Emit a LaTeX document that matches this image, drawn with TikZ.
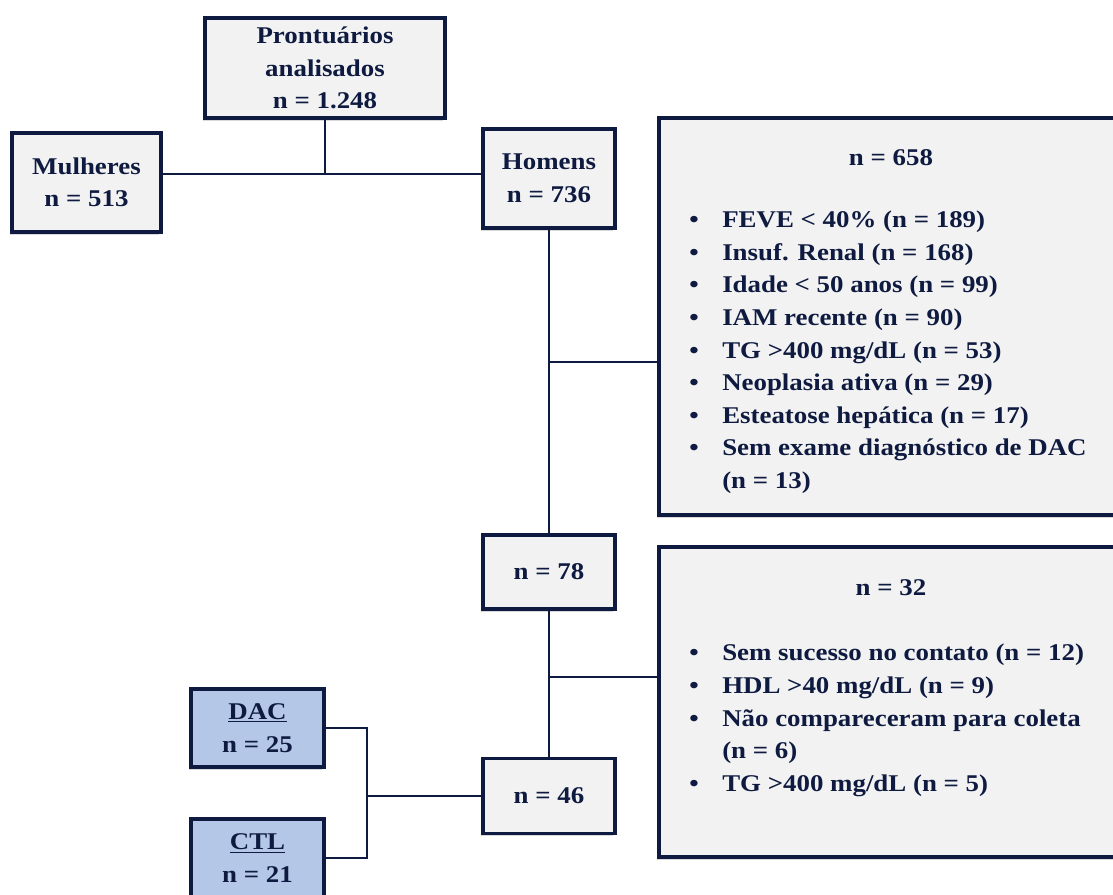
\documentclass[tikz,border=0pt]{standalone}
\usepackage{fontspec}
\setmainfont{Liberation Serif}[FakeStretch=1.12]
\usetikzlibrary{shadows}
\definecolor{azulescuro}{HTML}{0E1A40}
\definecolor{cinzaclaro}{HTML}{F2F2F2}
\definecolor{azulclaro}{HTML}{B4C7E7}
\newcommand{\marca}{\makebox[24.75pt][l]{\textbullet}}

\begin{document}
\begin{tikzpicture}[x=0.75pt,y=0.75pt,yscale=-1,xscale=1,
    fonte/.style={text=azulescuro, font=\fontsize{18pt}{24.4pt}\selectfont\bfseries},
    caixa/.style={fonte, draw=azulescuro, line width=2.5pt, fill=cinzaclaro, inner sep=0pt, align=center,
        drop shadow={shadow xshift=-1.5pt, shadow yshift=-2pt, opacity=0.3}},
    caixaazul/.style={caixa, fill=azulclaro},
    texto/.style={fonte, inner sep=0pt, align=left},
    ligacao/.style={draw=azulescuro, line width=2.2pt}]
    \clip (0,0) rectangle (1113,894);
    \fill[white] (0,0) rectangle (1113,894);

    % caixas
    \node[caixa, minimum width=180pt, minimum height=75pt] (pront) at (325,68) {Prontuários\\analisados\\n = 1.248};
    \node[caixa, minimum width=111.75pt, minimum height=74.25pt] (mulh) at (86.5,182.5) {Mulheres\\n = 513};
    \node[caixa, minimum width=99pt, minimum height=74.25pt] (hom) at (549,178.5) {Homens\\n = 736};
    \node[caixa, minimum width=348pt, minimum height=297.75pt] (exc1) at (891,316.5) {};
    \node[caixa, minimum width=99pt, minimum height=55.5pt] (n78) at (549,572) {n = 78};
    \node[caixa, minimum width=348pt, minimum height=232.5pt] (exc2) at (891,702) {};
    \node[caixa, minimum width=99pt, minimum height=56.25pt] (n46) at (549,796) {n = 46};
    \node[caixaazul, minimum width=99.75pt, minimum height=58.5pt] (dac) at (257.5,728) {\underline{DAC}\\n = 25};
    \node[caixaazul, minimum width=99.75pt, minimum height=58.5pt] (ctl) at (257.5,858) {\underline{CTL}\\n = 21};

    % textos das exclusoes
    \node[texto] (tit1) at (891,158) {n = 658};
    \node[texto, anchor=north west] (lista1) at (689,211) {\marca FEVE < 40\% (n = 189)\\
        \marca Insuf. Renal (n = 168)\\
        \marca Idade < 50 anos (n = 99)\\
        \marca IAM recente (n = 90)\\
        \marca TG >400 mg/dL (n = 53)\\
        \marca Neoplasia ativa (n = 29)\\
        \marca Esteatose hepática (n = 17)\\
        \marca Sem exame diagnóstico de DAC\\
        \hspace*{24.75pt}(n = 13)};
    \node[texto] (tit2) at (891,588) {n = 32};
    \node[texto, anchor=north west] (lista2) at (689,644) {\marca Sem sucesso no contato (n = 12)\\
        \marca HDL >40 mg/dL (n = 9)\\
        \marca Não compareceram para coleta\\
        \hspace*{24.75pt}(n = 6)\\
        \marca TG >400 mg/dL (n = 5)};

    % ligacoes
    \coordinate (jun1) at (325,174);
    \coordinate (jun2) at (549,362);
    \coordinate (jun3) at (549,677);
    \coordinate (jun4) at (367,796);
    \draw[ligacao] (pront.south) -- (jun1);
    \draw[ligacao] (mulh.east |- jun1) -- (hom.west |- jun1);
    \draw[ligacao] (hom.south) -- (n78.north);
    \draw[ligacao] (jun2) -- (exc1.west |- jun2);
    \draw[ligacao] (n78.south) -- (n46.north);
    \draw[ligacao] (jun3) -- (exc2.west |- jun3);
    \draw[ligacao] (n46.west) -- (jun4);
    \draw[ligacao] (dac.east) -- (dac.east -| jun4) -- (jun4 |- ctl.east) -- (ctl.east);
\end{tikzpicture}
\end{document}
